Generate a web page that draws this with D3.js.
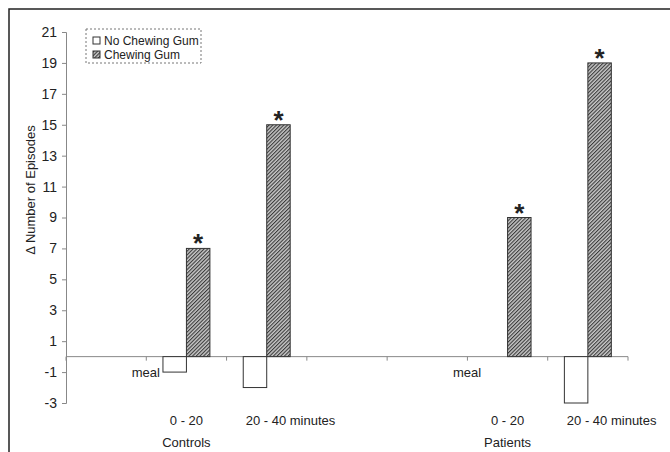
<!DOCTYPE html>
<html>
<head>
<meta charset="utf-8">
<script src="https://cdn.jsdelivr.net/npm/d3@7"></script>
<style>
  body { margin: 0; background: #fff; }
  text { font-family: "Liberation Sans", Arial, sans-serif; fill: #222; }
</style>
</head>
<body>
<div id="chart"></div>
<script>
// Set dimensions and margins for plot
const width = 670;
const height = 452;
const margin = {left: 66, right: 42, top: 32, bottom: 49};

// Hardcoded data, one slot per category on the x axis (empty slots keep the spacing)
const tickLabels = ["", "0 - 20", "20 - 40 minutes", "", "", "0 - 20", "20 - 40 minutes"];
const noGum = [null, -1, -2, null, null, 0, -3];
const gum = [null, 7, 15, null, null, 9, 19];
const groups = [{label: "Controls", at: 1}, {label: "Patients", at: 5}];
const mealAt = [1, 5];
const starred = [1, 2, 5, 6];
const series = ["No Chewing Gum", "Chewing Gum"];
const yTicks = d3.range(-3, 22, 2);

const svg = d3.select("#chart")
  .append("svg")
  .attr("width", width)
  .attr("height", height);

// hatch pattern for the chewing gum bars
const pat = svg.append("defs").append("pattern")
  .attr("id", "hatch")
  .attr("patternUnits", "userSpaceOnUse")
  .attr("width", 2.6)
  .attr("height", 2.6)
  .attr("patternTransform", "rotate(45)");
pat.append("rect").attr("width", 2.6).attr("height", 2.6).attr("fill", "#c8c8c8");
pat.append("rect").attr("width", 1.1).attr("height", 2.6).attr("fill", "#3a3a3a");

// outer frame (runs off the bottom and right of the picture)
svg.append("rect")
  .attr("x", 9).attr("y", 9)
  .attr("width", 700).attr("height", 500)
  .attr("fill", "none")
  .attr("stroke", "#222")
  .attr("stroke-width", 1.5);

let yScale = d3.scaleLinear()
  .domain([-3, 21])
  .range([height - margin.bottom, margin.top]);

let xScale = d3.scaleBand()
  .domain(d3.range(tickLabels.length))
  .range([margin.left, width - margin.right])
  .padding(0);

let xSub = d3.scaleBand()
  .domain(series)
  .range([0, xScale.bandwidth()])
  .paddingInner(0)
  .paddingOuter(0.71);

// y axis (plain hyphen for negatives, as in the original)
const yAxis = svg.append("g")
  .attr("transform", `translate(${margin.left},0)`)
  .call(d3.axisLeft(yScale).tickValues(yTicks).tickFormat(d => String(d)).tickSize(4).tickPadding(5));
yAxis.selectAll("path, line").attr("stroke", "#888");
yAxis.selectAll("text").attr("font-size", "14px").attr("fill", "#222");

// x axis along zero, ticks between categories
const x0 = yScale(0);
svg.append("line")
  .attr("x1", margin.left).attr("x2", width - margin.right)
  .attr("y1", x0).attr("y2", x0)
  .attr("stroke", "#888");
svg.selectAll(".xtick")
  .data(d3.range(tickLabels.length + 1))
  .enter()
  .append("line")
  .attr("class", "xtick")
  .attr("x1", i => margin.left + i * xScale.step())
  .attr("x2", i => margin.left + i * xScale.step())
  .attr("y1", x0).attr("y2", x0 + 4)
  .attr("stroke", "#888");

// bars
const noGumBars = noGum.map((v, i) => ({i, v})).filter(d => d.v !== null);
const gumBars = gum.map((v, i) => ({i, v})).filter(d => d.v !== null);

svg.selectAll(".bar-gum")
  .data(gumBars)
  .enter()
  .append("rect")
  .attr("class", "bar-gum")
  .attr("x", d => xScale(d.i) + xSub(series[1]))
  .attr("y", d => yScale(Math.max(0, d.v)))
  .attr("width", xSub.bandwidth())
  .attr("height", d => Math.abs(yScale(d.v) - yScale(0)))
  .attr("fill", "url(#hatch)")
  .attr("stroke", "#333");

svg.selectAll(".bar-nogum")
  .data(noGumBars)
  .enter()
  .append("rect")
  .attr("class", "bar-nogum")
  .attr("x", d => xScale(d.i) + xSub(series[0]))
  .attr("y", d => yScale(Math.max(0, d.v)))
  .attr("width", xSub.bandwidth())
  .attr("height", d => Math.abs(yScale(d.v) - yScale(0)))
  .attr("fill", "#fff")
  .attr("stroke", "#333");

// asterisks over the gum bars
svg.selectAll(".star")
  .data(starred)
  .enter()
  .append("text")
  .attr("class", "star")
  .attr("x", i => xScale(i) + xSub(series[1]) + xSub.bandwidth() / 2)
  .attr("y", i => yScale(gum[i]) + 4)
  .attr("text-anchor", "middle")
  .attr("font-size", "26px")
  .attr("font-weight", "bold")
  .text("*");

// "meal" labels
svg.selectAll(".meal")
  .data(mealAt)
  .enter()
  .append("text")
  .attr("class", "meal")
  .attr("x", i => xScale(i) + xSub(series[0]) - 3)
  .attr("y", x0 + 20)
  .attr("text-anchor", "end")
  .attr("font-size", "13px")
  .text("meal");

// category tick labels, "20 - 40" part centred on the band
svg.selectAll(".xlabel")
  .data(tickLabels.map((t, i) => ({t, i})).filter(d => d.t !== ""))
  .enter()
  .append("text")
  .attr("class", "xlabel")
  .attr("x", d => xScale(d.i) + xScale.bandwidth() / 2 - (d.t.length > 8 ? 21 : 0))
  .attr("y", height - margin.bottom + 22)
  .attr("text-anchor", d => d.t.length > 8 ? "start" : "middle")
  .attr("font-size", "13px")
  .text(d => d.t);

// group labels
svg.selectAll(".group")
  .data(groups)
  .enter()
  .append("text")
  .attr("class", "group")
  .attr("x", d => xScale(d.at) + xScale.bandwidth() / 2)
  .attr("y", height - margin.bottom + 44)
  .attr("text-anchor", "middle")
  .attr("font-size", "13px")
  .text(d => d.label);

// y axis title
svg.append("text")
  .attr("transform", "translate(35,190) rotate(-90)")
  .attr("text-anchor", "middle")
  .attr("font-size", "13px")
  .text("\u0394 Number of Episodes");

// legend
const legend = svg.append("g").attr("transform", "translate(86,29)");
legend.append("rect")
  .attr("width", 115).attr("height", 34)
  .attr("fill", "#fff")
  .attr("stroke", "#777")
  .attr("stroke-dasharray", "2,2");
series.forEach((s, k) => {
  legend.append("rect")
    .attr("x", 7).attr("y", 8 + k * 14)
    .attr("width", 7).attr("height", 7)
    .attr("fill", k === 0 ? "#fff" : "url(#hatch)")
    .attr("stroke", "#333");
  legend.append("text")
    .attr("x", 18).attr("y", 15.5 + k * 14)
    .attr("font-size", "12px")
    .text(s);
});
</script>
</body>
</html>
